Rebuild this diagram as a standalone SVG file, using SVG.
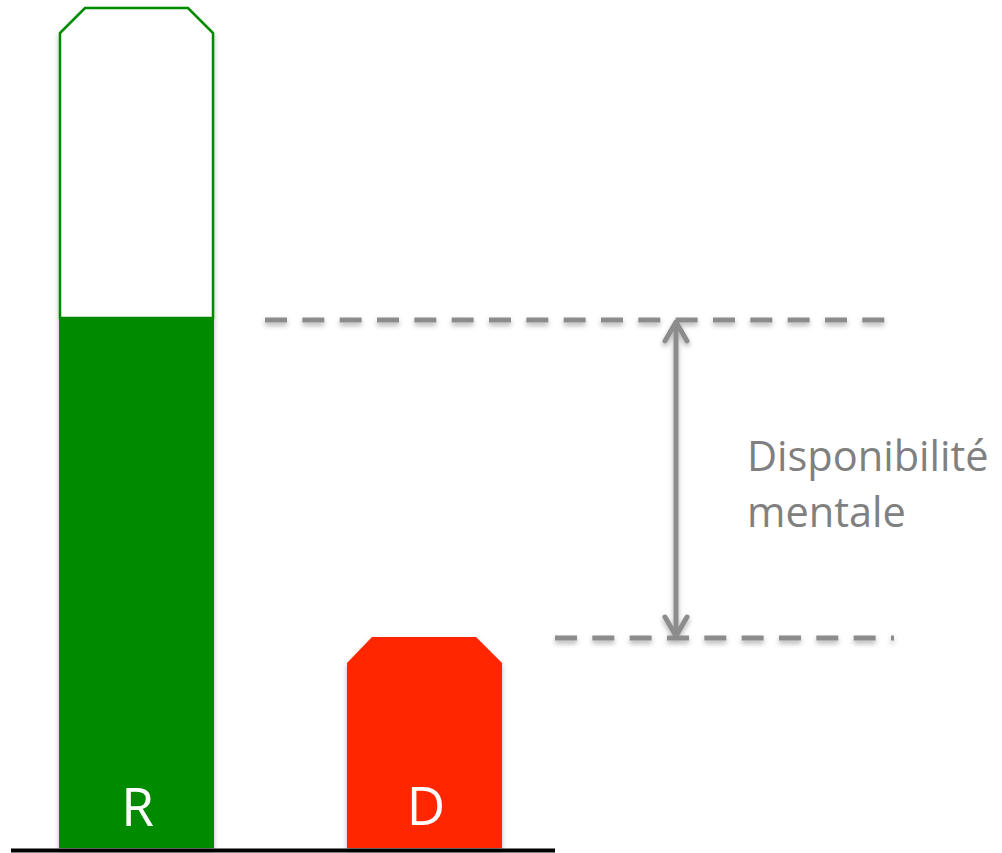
<svg xmlns="http://www.w3.org/2000/svg" width="1002" height="853" viewBox="0 0 1002 853">
  <defs>
    <filter id="shadow" x="-20%" y="-20%" width="140%" height="140%">
      <feDropShadow dx="0" dy="3" stdDeviation="2.5" flood-color="#000" flood-opacity="0.3"/>
    </filter>
    <style>
      .dash { stroke: #8c8c8c; stroke-width: 5; fill: none; stroke-dasharray: 22 15.33; }
      .arrow { stroke: #8c8c8c; stroke-width: 5; fill: none; stroke-linecap: round; stroke-linejoin: round; }
      .barlabel { font-family: "Open Sans", "Noto Sans", sans-serif; font-size: 53px; fill: #ffffff; text-anchor: middle; }
      .note { font-family: "Open Sans", "Noto Sans", sans-serif; font-size: 41.5px; fill: #808080; }
    </style>
  </defs>

  <rect width="1002" height="853" fill="#ffffff"/>

  <!-- R bar: empty capacity above, filled level below -->
  <g id="bar-R" filter="url(#shadow)">
    <path d="M85,8 L188,8 L213,33 L213,318 L60,318 L60,33 Z" fill="#ffffff" stroke="#008a00" stroke-width="2.5"/>
    <rect x="59" y="318" width="155" height="530" fill="#008a00"/>
    <text class="barlabel" x="137.5" y="826">R</text>
  </g>

  <!-- D bar -->
  <g id="bar-D" filter="url(#shadow)">
    <path d="M372,637 L476,637 L502,663 L502,848 L347,848 L347,663 Z" fill="#ff2600"/>
    <text class="barlabel" x="426" y="825">D</text>
  </g>

  <!-- baseline -->
  <line x1="11" y1="850.5" x2="555" y2="850.5" stroke="#000000" stroke-width="4"/>

  <!-- level markers and the gap between them -->
  <g id="connectors" filter="url(#shadow)">
    <line class="dash" x1="265" y1="320" x2="886" y2="320"/>
    <line class="dash" x1="555" y1="638" x2="894" y2="638"/>
    <line class="arrow" x1="676" y1="323" x2="676" y2="635"/>
    <polyline class="arrow" points="665,341 676,322 687,341"/>
    <polyline class="arrow" points="665,617 676,636 687,617"/>
  </g>

  <g id="label-gap">
    <text class="note" x="747" y="471">Disponibilité</text>
    <text class="note" x="747" y="527">mentale</text>
  </g>
</svg>
